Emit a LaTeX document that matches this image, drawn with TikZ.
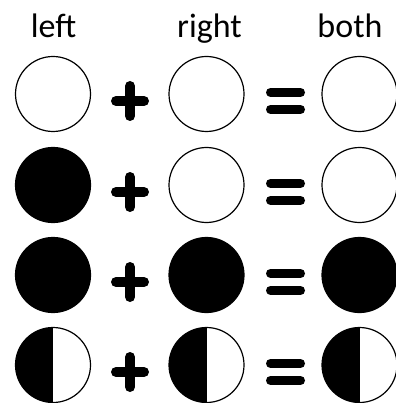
\documentclass[tikz,border=0pt]{standalone}
\usepackage{fontspec}
\setmainfont{Carlito}

\tikzset{
	blob/.style={circle, draw, line width=1.2pt, minimum size=75pt, inner sep=0pt},
	emptyblob/.style={blob, fill=white},
	fullblob/.style={blob, fill=black},
	halfblob/.style={blob, fill=white,
		path picture={\fill[black] (path picture bounding box.south west) rectangle (path picture bounding box.north);}},
	head/.style={font=\fontsize{34}{40}\selectfont, anchor=base},
	sign/.style={line width=10pt, line cap=round},
	plussign/.pic={\draw[sign] (-14,0) -- (14,0) (0,-15) -- (0,15);},
	eqsign/.pic={\draw[sign, line width=9pt] (-15,-8.5) -- (15,-8.5) (-15,8.5) -- (15,8.5);}
}

\begin{document}
\begin{tikzpicture}[x=1pt, y=-1pt]
			\useasboundingbox (0,0) rectangle (395,403);
			\node[head] (left) at (53.5,38) {left};
			\node[head] (right) at (209.5,38) {right};
			\node[head] (both) at (350,38) {both};
			\foreach \y/\a/\b/\c [count=\i] in {94/emptyblob/emptyblob/emptyblob,
				185/fullblob/emptyblob/emptyblob, 275/fullblob/fullblob/fullblob,
				365/halfblob/halfblob/halfblob} {
				\node[\a] (l\i) at (53,\y) {};
				\node[\b] (r\i) at (206.5,\y) {};
				\node[\c] (b\i) at (359.5,\y) {};
				\pic at (130,\y+7) {plussign};
				\pic at (285.5,\y+7) {eqsign};
			}
		\end{tikzpicture}
\end{document}
